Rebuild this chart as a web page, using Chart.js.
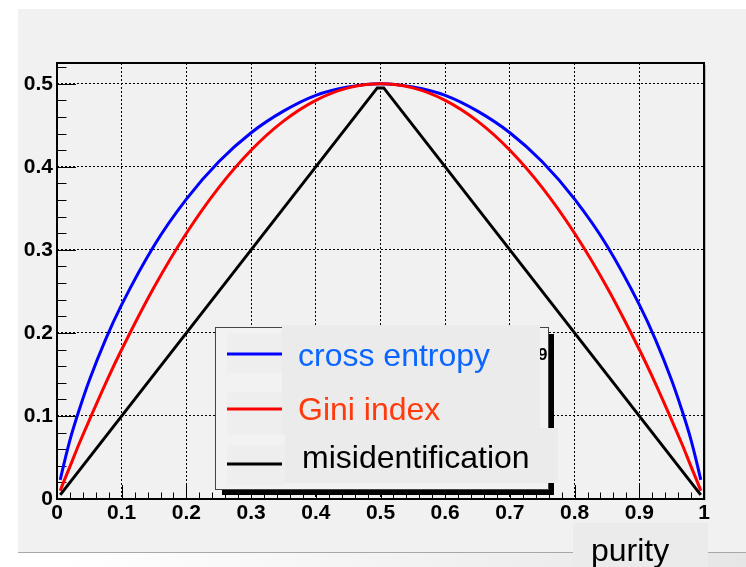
<!DOCTYPE html>
<html>
<head>
<meta charset="utf-8">
<script src="https://cdn.jsdelivr.net/npm/chart.js@4.4.1/dist/chart.umd.min.js"></script>
<style>
  html, body { margin: 0; padding: 0; background: #fff; }
  canvas { display: block; }
</style>
</head>
<body>
<canvas id="chart" width="746" height="567"></canvas>
<script>
// ===========================
// Data
// ===========================
const purity = [0.005, 0.01, 0.02, 0.035, 0.05, 0.075, 0.1, 0.15, 0.2, 0.25, 0.3, 0.35, 0.4, 0.45, 0.5,
                0.55, 0.6, 0.65, 0.7, 0.75, 0.8, 0.85, 0.9, 0.925, 0.95, 0.965, 0.98, 0.99, 0.995];
const crossEntropy = [0.023, 0.040, 0.071, 0.109, 0.143, 0.192, 0.234, 0.305, 0.361, 0.406, 0.441, 0.467, 0.486, 0.496, 0.500,
                      0.496, 0.486, 0.467, 0.441, 0.406, 0.361, 0.305, 0.234, 0.192, 0.143, 0.109, 0.071, 0.040, 0.023];
const giniIndex = [0.010, 0.020, 0.039, 0.068, 0.095, 0.139, 0.180, 0.255, 0.320, 0.375, 0.420, 0.455, 0.480, 0.495, 0.500,
                   0.495, 0.480, 0.455, 0.420, 0.375, 0.320, 0.255, 0.180, 0.139, 0.095, 0.068, 0.039, 0.020, 0.010];
const misidPurity = [0.005, 0.495, 0.505, 0.995];
const misidentification = [0.005, 0.495, 0.495, 0.005];

const xTicks = [0, 0.1, 0.2, 0.3, 0.4, 0.5, 0.6, 0.7, 0.8, 0.9, 1];
const xTickLabels = ['0', '0.1', '0.2', '0.3', '0.4', '0.5', '0.6', '0.7', '0.8', '0.9', '1'];
const yTicks = [0, 0.1, 0.2, 0.3, 0.4, 0.5];
const yTickLabels = ['0', '0.1', '0.2', '0.3', '0.4', '0.5'];

const seriesNames = ['cross entropy', 'Gini index', 'misidentification'];
const xTitle = 'purity';

// ===========================
// Look
// ===========================
const lineColors = ['#0000ff', '#ff0000', '#000000'];
const textColors = ['#0a66ff', '#ff3a0c', '#000000'];
const FONT = '"Liberation Sans", Arial, sans-serif';

const pts = (xs, ys) => xs.map((x, i) => ({ x, y: ys[i] }));

const rootLook = {
  id: 'rootLook',
  beforeDraw(chart) {
    const c = chart.ctx;
    c.save();
    c.fillStyle = '#ffffff';
    c.fillRect(0, 0, 746, 567);
    c.fillStyle = '#f1f1f1';
    c.fillRect(18, 9, 728, 543);
    const g = c.createLinearGradient(60, 0, 746, 0);
    g.addColorStop(0, '#ffffff');
    g.addColorStop(1, '#e6e6e6');
    c.fillStyle = g;
    c.fillRect(18, 553, 728, 14);
    c.fillStyle = '#a8a8a8';
    c.fillRect(18, 552, 728, 1);
    c.restore();
  },
  beforeDatasetsDraw(chart) {
    // ROOT style ticks inside the frame
    const c = chart.ctx, x = chart.scales.x, y = chart.scales.y;
    const a = chart.chartArea;
    c.save();
    c.strokeStyle = '#000';
    c.lineWidth = 1;
    c.beginPath();
    for (let i = 0; i <= 26; i++) {
      const py = Math.round(y.getPixelForValue(i * 0.02)) + 0.5;
      const len = i % 5 === 0 ? 19 : 9.5;
      c.moveTo(a.left, py);
      c.lineTo(a.left + len, py);
    }
    for (let i = 0; i <= 50; i++) {
      const px = Math.round(x.getPixelForValue(i * 0.02)) + 0.5;
      const len = i % 5 === 0 ? 14 : 6.5;
      c.moveTo(px, a.bottom);
      c.lineTo(px, a.bottom - len);
    }
    c.stroke();
    c.restore();
  },
  afterDatasetsDraw(chart) {
    const c = chart.ctx, a = chart.chartArea;
    c.save();
    c.strokeStyle = '#bbbbbb';
    c.lineWidth = 1;
    c.beginPath();
    c.moveTo(a.right + 1.5, a.top + 2);
    c.lineTo(a.right + 1.5, a.bottom + 1.5);
    c.stroke();
    c.strokeStyle = '#000';
    c.lineWidth = 2;
    c.strokeRect(a.left, a.top, a.right - a.left, a.bottom - a.top);
    c.restore();
  },
  afterDraw(chart) {
    const c = chart.ctx;
    c.save();
    // legend shadow + box
    c.fillStyle = '#000';
    c.fillRect(548, 334, 6, 161);
    c.fillRect(222, 489, 332, 6);
    c.fillStyle = '#f2f2f2';
    c.fillRect(215, 327, 333, 162);
    c.strokeStyle = '#444';
    c.lineWidth = 1;
    c.strokeRect(215.5, 327.5, 333, 162);
    c.fillStyle = '#000';
    c.font = 'bold 17px ' + FONT;
    c.fillText('9', 538, 360);
    // pasted text patches
    c.fillStyle = '#eeeeee';
    c.fillRect(227, 333, 55, 40);
    c.fillRect(227, 392, 55, 43);
    c.fillRect(227, 445, 58, 40);
    c.fillStyle = '#ebebeb';
    c.fillRect(282, 325, 258, 110);
    c.fillRect(285, 428, 273, 55);
    const lineY = [354, 409, 464];
    const textX = [298, 298, 302];
    const textY = [366, 420, 468];
    c.font = '32px ' + FONT;
    c.lineWidth = 3;
    seriesNames.forEach((name, i) => {
      c.strokeStyle = lineColors[i];
      c.beginPath();
      c.moveTo(227, lineY[i]);
      c.lineTo(282, lineY[i]);
      c.stroke();
      c.fillStyle = textColors[i];
      c.fillText(name, textX[i], textY[i]);
    });
    // axis title box
    c.fillStyle = '#ebebeb';
    c.fillRect(573, 523, 135, 44);
    c.fillStyle = '#000';
    c.fillText(xTitle, 591, 561);
    c.restore();
  }
};

new Chart(document.getElementById('chart'), {
  type: 'line',
  data: {
    datasets: [
      { label: seriesNames[0], data: pts(purity, crossEntropy), borderColor: lineColors[0], order: 3,
        borderWidth: 3, pointRadius: 0, cubicInterpolationMode: 'monotone', fill: false },
      { label: seriesNames[1], data: pts(purity, giniIndex), borderColor: lineColors[1], order: 2,
        borderWidth: 3, pointRadius: 0, cubicInterpolationMode: 'monotone', fill: false },
      { label: seriesNames[2], data: pts(misidPurity, misidentification), borderColor: lineColors[2], order: 1,
        borderWidth: 3, pointRadius: 0, tension: 0, fill: false },
    ]
  },
  options: {
    responsive: false,
    animation: false,
    devicePixelRatio: 1,
    layout: { padding: { left: 0, top: 63, right: 42, bottom: 0 } },
    plugins: { legend: { display: false }, tooltip: { enabled: false } },
    scales: {
      x: {
        type: 'linear', min: 0, max: 1,
        afterBuildTicks: s => { s.ticks = xTicks.map(v => ({ value: v })); },
        afterFit: s => { s.height = 68; },
        grid: { color: '#000', lineWidth: 1, drawTicks: false },
        border: { display: false, dash: [2, 2] },
        ticks: {
          color: '#000', padding: 2, maxRotation: 0, autoSkip: false,
          font: { family: FONT, weight: 'bold', size: 21 },
          callback: (v, i) => xTickLabels[i]
        }
      },
      y: {
        type: 'linear', min: 0, max: 0.525,
        afterBuildTicks: s => { s.ticks = yTicks.map(v => ({ value: v })); },
        afterFit: s => { s.width = 57; },
        grid: { color: '#000', lineWidth: 1, drawTicks: false },
        border: { display: false, dash: [2, 2] },
        ticks: {
          color: '#000', padding: 4, autoSkip: false,
          font: { family: FONT, weight: 'bold', size: 21 },
          callback: (v, i) => yTickLabels[i]
        }
      }
    }
  },
  plugins: [rootLook]
});
</script>
</body>
</html>
